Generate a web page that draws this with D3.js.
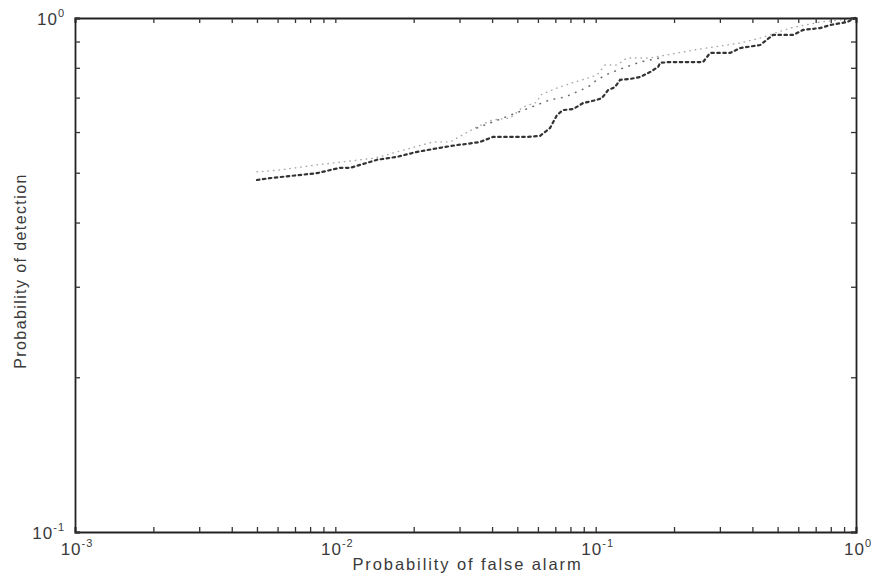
<!DOCTYPE html>
<html>
<head>
<meta charset="utf-8" />
<title>ROC curves</title>
<script src="https://d3js.org/d3.v7.min.js"></script>
<style>
  body { margin: 0; background: #fff; }
  svg { display: block; }
  text { font-family: "Liberation Sans", Helvetica, Arial, sans-serif; fill: #3a3a3a; }
</style>
</head>
<body>
<svg width="874" height="579"></svg>
<script>
// axis ranges and tick labels (powers of ten)
var xDomain = [1e-3, 1];
var yDomain = [0.1, 1];
var xTickExps = ["-3", "-2", "-1", "0"];
var yTickExps = ["-1", "0"];

// darker dashed curve
var pfaDark = [0.0050, 0.0056, 0.0085, 0.0104, 0.0114, 0.0145, 0.0173, 0.0206, 0.0252, 0.0293,
  0.0321, 0.0360, 0.0403, 0.0469, 0.0545, 0.0612, 0.0668, 0.0711, 0.0749, 0.0819,
  0.0894, 0.1012, 0.1058, 0.1116, 0.1187, 0.1241, 0.1356, 0.1482, 0.1618, 0.1737,
  0.1768, 0.1931, 0.2167, 0.2586, 0.2751, 0.3284, 0.3587, 0.4281, 0.4803, 0.5734,
  0.6262, 0.7279, 0.7953, 0.9243, 0.992];
var pdDark = [0.484, 0.488, 0.499, 0.511, 0.511, 0.530, 0.537, 0.549, 0.559, 0.566,
  0.569, 0.574, 0.587, 0.587, 0.587, 0.590, 0.611, 0.648, 0.662, 0.665,
  0.683, 0.693, 0.699, 0.724, 0.734, 0.758, 0.761, 0.768, 0.785, 0.803,
  0.818, 0.821, 0.821, 0.821, 0.855, 0.855, 0.874, 0.886, 0.927, 0.927,
  0.948, 0.956, 0.969, 0.982, 1.0];

// middle sparse dotted curve
var pfaMid = [0.0350, 0.0668, 0.0763, 0.0935, 0.1012, 0.1136, 0.1274, 0.1482, 0.1848];
var pdMid = [0.611, 0.693, 0.702, 0.734, 0.758, 0.782, 0.799, 0.821, 0.840];

// light dotted curve
var pfaLight = [0.0050, 0.0061, 0.0085, 0.0142, 0.0237, 0.0276, 0.0350, 0.0400, 0.0469, 0.0499,
  0.0526, 0.0596, 0.0612, 0.0711, 0.0834, 0.0935, 0.1012, 0.1087, 0.1208, 0.1320,
  0.1618, 0.2367, 0.3587, 0.4281, 0.558, 0.7279, 0.949];
var pdLight = [0.502, 0.506, 0.518, 0.534, 0.574, 0.574, 0.614, 0.633, 0.639, 0.656,
  0.671, 0.686, 0.708, 0.731, 0.751, 0.764, 0.775, 0.810, 0.810, 0.836,
  0.836, 0.866, 0.894, 0.914, 0.956, 0.982, 0.996];

var svg = d3.select("svg");
var margin = { top: 18, right: 18, bottom: 47, left: 75 };
var width = 874 - margin.left - margin.right;
var height = 579 - margin.top - margin.bottom;

var g = svg.append("g")
  .attr("transform", "translate(" + margin.left + "," + margin.top + ")");

var x = d3.scaleLog().domain(xDomain).range([0, width]);
var y = d3.scaleLog().domain(yDomain).range([height, 0]);

var line = d3.line()
  .x(function (d) { return x(d[0]); })
  .y(function (d) { return y(d[1]); });

function drawCurve(xs, ys, color, w, dash) {
  g.append("path")
    .datum(d3.zip(xs, ys))
    .attr("d", line)
    .attr("fill", "none")
    .attr("stroke", color)
    .attr("stroke-width", w)
    .attr("stroke-linecap", "round")
    .attr("stroke-dasharray", dash);
}

drawCurve(pfaLight, pdLight, "#a8a8a8", 1.4, "0.5,5");
drawCurve(pfaMid, pdMid, "#6a6a6a", 1.6, "0.5,7");
drawCurve(pfaDark, pdDark, "#333", 2.2, "2.5,3.5");

// box with inward ticks on all four sides
var tick = 5;
g.append("g").attr("transform", "translate(0," + height + ")")
  .call(d3.axisBottom(x).tickSize(-tick).tickFormat(""));
g.append("g")
  .call(d3.axisTop(x).tickSize(-tick).tickFormat(""));
g.append("g")
  .call(d3.axisLeft(y).tickSize(-tick).tickFormat(""));
g.append("g").attr("transform", "translate(" + width + ",0)")
  .call(d3.axisRight(y).tickSize(-tick).tickFormat(""));

g.selectAll(".domain").attr("stroke", "#222").attr("stroke-width", 1.8);
g.selectAll(".tick line").attr("stroke", "#333").attr("stroke-width", 1.3);

// tick labels 10^k
function powLabel(t, e) {
  t.style("font-size", "17px").style("letter-spacing", "1px");
  t.append("tspan").text("10");
  t.append("tspan").attr("dy", -8).style("font-size", "11px").text(e);
}

xTickExps.forEach(function (e) {
  var t = g.append("text")
    .attr("x", x(Math.pow(10, +e)) + 2)
    .attr("y", height + 23)
    .attr("text-anchor", "middle");
  powLabel(t, e);
});

yTickExps.forEach(function (e) {
  var t = g.append("text")
    .attr("x", -10)
    .attr("y", y(Math.pow(10, +e)) + 7)
    .attr("text-anchor", "end");
  powLabel(t, e);
});

// axis titles
g.append("text")
  .attr("x", width / 2 + 2)
  .attr("y", height + 38)
  .attr("text-anchor", "middle")
  .style("font-size", "16.5px")
  .style("letter-spacing", "1.9px")
  .text("Probability of false alarm");

g.append("text")
  .attr("transform", "rotate(-90)")
  .attr("x", -height / 2 + 4)
  .attr("y", -49)
  .attr("text-anchor", "middle")
  .style("font-size", "16px")
  .style("letter-spacing", "1.4px")
  .text("Probability of detection");
</script>
</body>
</html>
